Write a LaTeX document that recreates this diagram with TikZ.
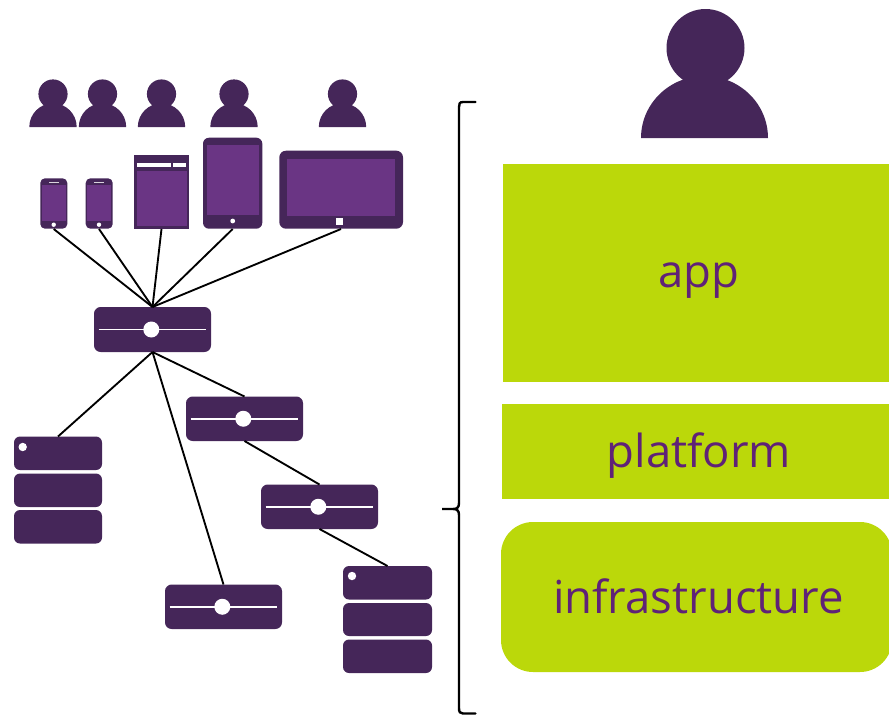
\documentclass[tikz,border=0pt]{standalone}
\usepackage{fontspec}
\setmainfont{Open Sans}
\usetikzlibrary{fit}
\definecolor{dark}{HTML}{452659}
\definecolor{screen}{HTML}{6A3584}
\definecolor{lime}{HTML}{BBD80A}
\definecolor{ink}{HTML}{5F2277}
\tikzset{
  x=0.75pt,y=-0.75pt,
  box/.style={fit={#1},inner sep=0pt,outer sep=0pt,fill=dark,rounded corners=3.5pt},
  sharpbox/.style={fit={#1},inner sep=0pt,outer sep=0pt,fill=dark},
  scr/.style={fill=screen},
  wht/.style={fill=white},
  link/.style={draw=black,line width=1.4pt},
  band/.style={fit={#1},inner sep=0pt,outer sep=0pt,fill=lime},
  layertext/.style={anchor=base,inner sep=0pt,text=ink,font=\fontsize{34.1pt}{38pt}\selectfont},
  person/.pic={
    \fill[dark] (0,-33) circle (14.6);
    \fill[dark] (-23.7,0) arc[start angle=180,end angle=360,x radius=23.7,y radius=23.7] -- cycle;
  },
  bigperson/.pic={
    \fill[dark] (1,-90) circle (39);
    \fill[dark] (-63.5,0) arc[start angle=180,end angle=360,x radius=63.5,y radius=62] -- cycle;
  },
  slider/.pic={
    \draw[white,line width=1.3pt] (-54,0) -- (53.5,0);
    \fill[white] (-1.2,0) circle (8);
  },
}
\newcommand{\hubnode}[5]{%
  \node[box={(#2,#3)(#4,#5)},rounded corners=5pt] (#1) {};
  \pic at (#1.center) {slider};
}
\begin{document}
\begin{tikzpicture}
\useasboundingbox (0,0) rectangle (889,715);

% users
\pic at (53,127) {person};
\pic at (102.5,127) {person};
\pic at (161.5,127) {person};
\pic at (234,127) {person};
\pic at (342.5,127) {person};
\pic at (704.5,138) {bigperson};

% phones
\node[box={(40.3,178.3)(67.3,228.7)}] (phoneA) {};
\fill[scr] (41.7,185) rectangle (66,221);
\fill[wht,opacity=.8] (48.7,181.5) rectangle (58.7,182.8);
\fill[wht] (53.7,224.7) circle (2.2);
\node[box={(85.7,178.3)(112.7,228.7)}] (phoneB) {};
\fill[scr] (86.7,185) rectangle (111.3,221);
\fill[wht,opacity=.8] (94,181.5) rectangle (104,182.8);
\fill[wht] (99,224.7) circle (2.2);

% small tablet
\node[sharpbox={(134,155)(189,229)}] (slate) {};
\fill[scr] (137,171) rectangle (187.3,225.7);
\fill[wht] (137,163) rectangle (171,167);
\fill[wht] (173,163) rectangle (186,167);

% tablet
\node[box={(203,137.7)(262.3,228.7)},rounded corners=4.5pt] (tablet) {};
\fill[scr] (207,145) rectangle (259,215);
\fill[wht] (232.7,221) circle (2.4);

% large tablet
\node[box={(279.3,150.7)(403,228.7)},rounded corners=5pt] (surface) {};
\fill[scr] (287,159) rectangle (395,215.7);
\fill[wht] (336,218) rectangle (343,225);

% hubs
\hubnode{hubA}{94}{307}{211}{352}
\hubnode{hubB}{186}{396.5}{303}{441}
\hubnode{hubC}{261}{484.5}{378}{529}
\hubnode{hubD}{165}{584.5}{282}{629}

% servers
\node[box={(14,436.5)(102,470)},rounded corners=4.5pt] (srvA) {};
\node[box={(14,473.5)(102,507)},rounded corners=4.5pt] (srvAb) {};
\node[box={(14,510)(102,543.5)},rounded corners=4.5pt] (srvAc) {};
\fill[wht] (22.7,447) circle (4.2);
\node[box={(343,566)(432,599.5)},rounded corners=4.5pt] (srvB) {};
\node[box={(343,603)(432,636)},rounded corners=4.5pt] (srvBb) {};
\node[box={(343,639.5)(432,673)},rounded corners=4.5pt] (srvBc) {};
\fill[wht] (352,576) circle (4.2);

% connectors
\coordinate (phoneAport) at (53.7,229);
\coordinate (phoneBport) at (99,229);
\coordinate (tabletport) at (232.7,229);
\coordinate (surfaceport) at (341,229);
\draw[link] (phoneAport) -- (hubA.north);
\draw[link] (phoneBport) -- (hubA.north);
\draw[link] (slate.south) -- (hubA.north);
\draw[link] (tabletport) -- (hubA.north);
\draw[link] (surfaceport) -- (hubA.north);
\draw[link] (hubA.south) -- (srvA.north);
\draw[link] (hubA.south) -- (hubD.north);
\draw[link] (hubA.south) -- (hubB.north);
\draw[link] (hubB.south) -- (hubC.north);
\draw[link] (hubC.south) -- (srvB.north);

% brace
\draw[black,line width=1.8pt,line cap=round]
  (475.5,102) -- (463,102) .. controls (459.5,102) and (459,104) .. (459,107)
  -- (459,503) .. controls (459,507.5) and (457,509) .. (453,509) -- (442,509)
  -- (453,509) .. controls (457,509) and (459,510.5) .. (459,515)
  -- (459,708) .. controls (459,712) and (460,713.5) .. (463,713.5) -- (475.5,713.5);

% layers
\node[band={(503,164)(889,382)}] (app) {};
\node[band={(502,404)(889,499)}] (platform) {};
\begin{scope}
\clip (495,515) rectangle (889,680);
\node[band={(501,522)(892,672)},rounded corners=24pt] (infra) {};
\end{scope}
\node[layertext] (apptext) at (699,287.5) {app};
\node[layertext] (platformtext) at (699,467.5) {platform};
\node[layertext] (infratext) at (698.5,613) {infrastructure};
\end{tikzpicture}
\end{document}
